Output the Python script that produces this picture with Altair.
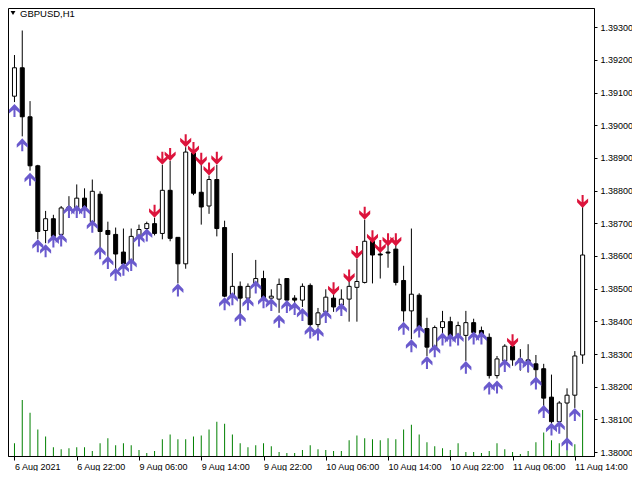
import json
import altair as alt
import pandas as pd

symbol_label = "GBPUSD,H1"

opens = [1.39089, 1.39176, 1.39026, 1.38876, 1.38678, 1.38714, 1.38666, 1.38741, 1.38744, 1.38777,
         1.38705, 1.38789, 1.38678, 1.38666, 1.38612, 1.38585, 1.38660, 1.38684, 1.38699, 1.38669,
         1.38801, 1.38657, 1.38576, 1.38915, 1.38795, 1.38753, 1.38834, 1.38687, 1.38477, 1.38507,
         1.38471, 1.38516, 1.38531, 1.38471, 1.38468, 1.38531, 1.38471, 1.38465, 1.38510, 1.38390,
         1.38429, 1.38471, 1.38450, 1.38468, 1.38504, 1.38519, 1.38645, 1.38606, 1.38612, 1.38621,
         1.38525, 1.38432, 1.38480, 1.38378, 1.38321, 1.38381, 1.38399, 1.38357, 1.38357, 1.38396,
         1.38372, 1.38351, 1.38234, 1.38279, 1.38324, 1.38285, 1.38282, 1.38270, 1.38255, 1.38168,
         1.38093, 1.38150, 1.38174, 1.38297]
highs = [1.39215, 1.39290, 1.39074, 1.38879, 1.38738, 1.38726, 1.38753, 1.38783, 1.38819, 1.38807,
         1.38834, 1.38798, 1.38705, 1.38687, 1.38684, 1.38684, 1.38696, 1.38705, 1.38717, 1.38879,
         1.38891, 1.38657, 1.38933, 1.38915, 1.38879, 1.38846, 1.38879, 1.38708, 1.38609, 1.38522,
         1.38516, 1.38588, 1.38555, 1.38498, 1.38531, 1.38531, 1.38480, 1.38516, 1.38516, 1.38441,
         1.38498, 1.38486, 1.38498, 1.38534, 1.38591, 1.38711, 1.38666, 1.38624, 1.38636, 1.38657,
         1.38570, 1.38684, 1.38486, 1.38411, 1.38387, 1.38432, 1.38414, 1.38399, 1.38432, 1.38408,
         1.38384, 1.38363, 1.38294, 1.38330, 1.38324, 1.38315, 1.38330, 1.38297, 1.38270, 1.38237,
         1.38156, 1.38195, 1.38309, 1.38750]
lows = [1.39071, 1.38966, 1.38861, 1.38651, 1.38639, 1.38651, 1.38657, 1.38723, 1.38729, 1.38735,
        1.38699, 1.38624, 1.38594, 1.38555, 1.38567, 1.38579, 1.38645, 1.38675, 1.38663, 1.38651,
        1.38645, 1.38516, 1.38561, 1.38786, 1.38696, 1.38729, 1.38660, 1.38474, 1.38471, 1.38423,
        1.38465, 1.38510, 1.38462, 1.38465, 1.38426, 1.38459, 1.38456, 1.38444, 1.38384, 1.38381,
        1.38423, 1.38429, 1.38429, 1.38399, 1.38399, 1.38516, 1.38516, 1.38531, 1.38564, 1.38510,
        1.38399, 1.38345, 1.38375, 1.38294, 1.38315, 1.38354, 1.38345, 1.38351, 1.38279, 1.38357,
        1.38345, 1.38225, 1.38225, 1.38273, 1.38264, 1.38249, 1.38243, 1.38225, 1.38135, 1.38081,
        1.38084, 1.38036, 1.38135, 1.38270]
closes = [1.39176, 1.39026, 1.38876, 1.38675, 1.38714, 1.38660, 1.38747, 1.38750, 1.38777, 1.38744,
          1.38798, 1.38675, 1.38666, 1.38606, 1.38576, 1.38660, 1.38681, 1.38699, 1.38669, 1.38801,
          1.38654, 1.38576, 1.38918, 1.38792, 1.38750, 1.38834, 1.38684, 1.38477, 1.38507, 1.38471,
          1.38507, 1.38531, 1.38468, 1.38477, 1.38513, 1.38465, 1.38465, 1.38507, 1.38390, 1.38426,
          1.38474, 1.38444, 1.38468, 1.38507, 1.38522, 1.38645, 1.38603, 1.38603, 1.38609, 1.38519,
          1.38432, 1.38483, 1.38381, 1.38321, 1.38381, 1.38399, 1.38354, 1.38387, 1.38396, 1.38366,
          1.38354, 1.38234, 1.38285, 1.38324, 1.38282, 1.38276, 1.38276, 1.38252, 1.38165, 1.38093,
          1.38150, 1.38174, 1.38294, 1.38603]
volumes = [1300, 5700, 4400, 2700, 2000, 900, 700, 800, 900, 900,
           500, 1300, 1800, 1100, 1300, 1100, 600, 300, 500, 1700,
           2200, 1700, 1700, 2000, 2100, 2700, 3500, 3300, 2200, 1300,
           900, 1100, 1300, 1000, 400, 300, 300, 600, 1100, 700,
           600, 500, 500, 1600, 2100, 1800, 1700, 1600, 1800, 1700,
           2700, 3200, 2200, 1400, 1000, 800, 600, 1300, 400, 400,
           300, 500, 1300, 700, 400, 200, 500, 1400, 2400, 1600,
           1300, 1700, 1200, 4700]

up_arrow_bars = [0, 1, 2, 3, 4, 5, 6, 7, 8, 9, 10, 11, 12, 13, 14, 15, 16, 17, 21,
                 27, 28, 29, 30, 31, 32, 33, 34, 35, 36, 37, 38, 39, 40, 42,
                 50, 51, 52, 53, 54, 55, 56, 57, 58, 59, 60, 61, 62, 63,
                 65, 66, 67, 68, 69, 70, 71, 72]
up_arrow_prices = [1.39065, 1.38960, 1.38855, 1.38651, 1.38636, 1.38666, 1.38669, 1.38756, 1.38756,
                   1.38756, 1.38711, 1.38630, 1.38600, 1.38564, 1.38579, 1.38594, 1.38669, 1.38684,
                   1.38516,
                   1.38474, 1.38489, 1.38426, 1.38474, 1.38525, 1.38480, 1.38471, 1.38420, 1.38465,
                   1.38459, 1.38441, 1.38387, 1.38381, 1.38435, 1.38456,
                   1.38399, 1.38345, 1.38390, 1.38294, 1.38330, 1.38366, 1.38363, 1.38366, 1.38279,
                   1.38369, 1.38369, 1.38216, 1.38219, 1.38285,
                   1.38291, 1.38285, 1.38231, 1.38144, 1.38090, 1.38096, 1.38045, 1.38135]
down_arrow_bars = [18, 19, 20, 22, 23, 24, 25, 26, 41, 43, 44, 45, 46, 47, 48, 49, 64, 73]
down_arrow_prices = [1.38717, 1.38879, 1.38891, 1.38933, 1.38909, 1.38876, 1.38846, 1.38879,
                     1.38480, 1.38519, 1.38591, 1.38711, 1.38639, 1.38609, 1.38630, 1.38630,
                     1.38321, 1.38747]

x_tick_bars = [0, 8, 16, 24, 32, 40, 48, 56, 64, 72]
x_tick_labels = ["6 Aug 2021", "6 Aug 22:00", "9 Aug 06:00", "9 Aug 14:00", "9 Aug 22:00",
                 "10 Aug 06:00", "10 Aug 14:00", "10 Aug 22:00", "11 Aug 06:00", "11 Aug 14:00"]
price_ticks = [1.380, 1.381, 1.382, 1.383, 1.384, 1.385, 1.386, 1.387, 1.388, 1.389,
               1.390, 1.391, 1.392, 1.393]

FONT = "Liberation Sans"
UP_COLOR = "#6A5ACD"
DOWN_COLOR = "#DC143C"
VOL_COLOR = "#008000"

bars = pd.DataFrame({
    "bar": list(range(len(opens))),
    "open": opens, "high": highs, "low": lows, "close": closes, "volume": volumes,
})
ups = pd.DataFrame({"bar": up_arrow_bars, "price": up_arrow_prices})
downs = pd.DataFrame({"bar": down_arrow_bars, "price": down_arrow_prices})

x_scale = alt.Scale(domain=[-0.1894, 73.8209], nice=False, zero=False)
price_scale = alt.Scale(domain=[1.379879, 1.393589], nice=False, zero=False)

x_axis = alt.Axis(
    values=x_tick_bars, title=None, grid=False,
    labelExpr=json.dumps(x_tick_labels) + "[round(datum.value / 8)]",
    labelAlign="left", labelBaseline="top", labelPadding=2,
    tickSize=4, labelOverlap=False, labelFlush=False,
)
price_axis = alt.Axis(
    orient="right", values=price_ticks, format=".5f", title=None, grid=False,
    tickSize=3, labelPadding=3, labelOverlap=False,
)

X = alt.X("bar:Q", scale=x_scale, axis=x_axis)

volume_layer = alt.Chart(bars).mark_bar(size=1, color=VOL_COLOR).encode(
    x=X,
    y=alt.Y("volume:Q", scale=alt.Scale(domain=[0, 45700], nice=False), axis=None),
)

wicks = alt.Chart(bars).mark_rule(color="black", strokeWidth=1).encode(
    x=X,
    y=alt.Y("low:Q", scale=price_scale, axis=price_axis),
    y2="high:Q",
)
bodies = alt.Chart(bars).mark_bar(size=4, stroke="black", strokeWidth=1).encode(
    x=X,
    y=alt.Y("open:Q", scale=price_scale, axis=price_axis),
    y2="close:Q",
    fill=alt.condition("datum.close >= datum.open", alt.value("white"), alt.value("black")),
)

up_path = "M-0.17,1.08L0.17,1.08L0.17,-0.15L0.92,0.5L0.92,-0.12L0,-1.08L-0.92,-0.12L-0.92,0.5L-0.17,-0.15Z"
down_path = "M-0.17,-1.08L0.17,-1.08L0.17,0.15L0.92,-0.5L0.92,0.12L0,1.08L-0.92,0.12L-0.92,-0.5L-0.17,0.15Z"

up_layer = alt.Chart(ups).mark_point(
    shape=up_path, filled=True, size=144, color=UP_COLOR, opacity=1, strokeWidth=0, yOffset=6.5
).encode(x=X, y=alt.Y("price:Q", scale=price_scale, axis=price_axis))
down_layer = alt.Chart(downs).mark_point(
    shape=down_path, filled=True, size=144, color=DOWN_COLOR, opacity=1, strokeWidth=0, yOffset=-6.5
).encode(x=X, y=alt.Y("price:Q", scale=price_scale, axis=price_axis))

title_df = pd.DataFrame({"t": [symbol_label]})
title_text = alt.Chart(title_df).mark_text(
    align="left", baseline="middle", font=FONT, fontSize=9.5, color="black"
).encode(text="t:N", x=alt.value(12), y=alt.value(6))
title_tri = alt.Chart(title_df).mark_point(
    shape="triangle-down", filled=True, size=24, color="black", opacity=1
).encode(x=alt.value(5), y=alt.value(5))

price_layers = alt.layer(wicks, bodies, up_layer, down_layer)

chart = alt.layer(volume_layer, price_layers, title_text, title_tri).resolve_scale(
    y="independent"
).properties(
    width=586, height=448,
    padding={"left": 0, "top": 0, "right": 38, "bottom": 15},
    autosize=alt.AutoSizeParams(type="none"),
    background="white",
).configure_view(
    stroke="black", strokeWidth=1
).configure_axis(
    labelFont=FONT, labelFontSize=9, labelColor="black",
    domainColor="black", tickColor="black", domainWidth=1, tickWidth=1,
)

chart.save("out.html", embed_options={"renderer": "svg", "actions": False})
